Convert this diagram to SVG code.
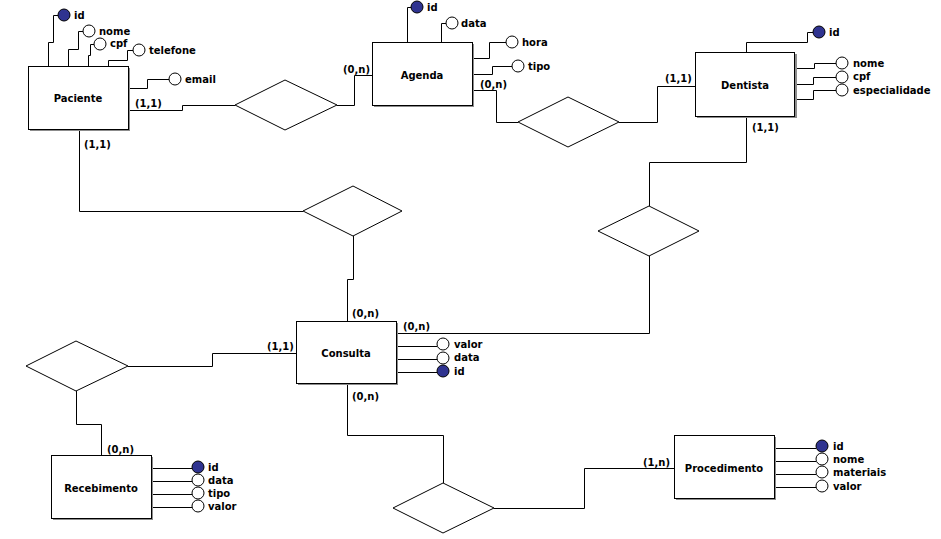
<svg xmlns="http://www.w3.org/2000/svg" width="941" height="539" viewBox="0 0 941 539">
<style>
text{font-family:"DejaVu Sans","Liberation Sans",sans-serif;font-weight:bold;font-size:10px;fill:#000}
.c{text-anchor:middle}
.box{fill:#fff;stroke:#000;stroke-width:1}
.sh{fill:#8c8c8c}
.ln{fill:none;stroke:#000;stroke-width:1}
.dia{fill:#fff;stroke:#000;stroke-width:1}
.ao{fill:#fff;stroke:#000;stroke-width:1}
.ak{fill:#2f3390;stroke:#000;stroke-width:1}
</style>
<rect width="941" height="539" fill="#fff"/>

<g id="connectors">
<path class="ln" d="M128.5,110.5 H182.5 V105.5 H235"/>
<path class="ln" d="M337,105.5 H354.5 V75.5 H372"/>
<path class="ln" d="M472,90.5 H496.5 V122.5 H518"/>
<path class="ln" d="M619,122.5 H657.5 V86.5 H695"/>
<path class="ln" d="M746.5,116 V162.5 H649.5 V206"/>
<path class="ln" d="M649.5,256 V333.5 H396"/>
<path class="ln" d="M79.5,129 V211.5 H303"/>
<path class="ln" d="M353.5,236 V279.5 H347.5 V321"/>
<path class="ln" d="M296,353.5 H212.5 V366.5 H128"/>
<path class="ln" d="M76.5,391 V424.5 H101.5 V455"/>
<path class="ln" d="M347.5,383 V435.5 H443.5 V483"/>
<path class="ln" d="M494,508.5 H584.5 V468.5 H674"/>
<text x="135" y="107">(1,1)</text>
<text x="343" y="73">(0,n)</text>
<text x="480" y="88">(0,n)</text>
<text x="665" y="82">(1,1)</text>
<text x="752" y="131">(1,1)</text>
<text x="84" y="148">(1,1)</text>
<text x="352" y="317">(0,n)</text>
<text x="403" y="330">(0,n)</text>
<text x="267" y="350">(1,1)</text>
<text x="352" y="400">(0,n)</text>
<text x="107" y="453">(0,n)</text>
<text x="643" y="466">(1,n)</text>
</g>

<g id="rel-paciente-agenda"><polygon class="dia" points="235,105 285,80 337,105 285,130"/></g>
<g id="rel-agenda-dentista"><polygon class="dia" points="518,122 568,97 619,122 568,147"/></g>
<g id="rel-dentista-consulta"><polygon class="dia" points="598,231 649,206 699,231 649,256"/></g>
<g id="rel-paciente-consulta"><polygon class="dia" points="303,211 353,186 402,211 353,236"/></g>
<g id="rel-consulta-recebimento"><polygon class="dia" points="26,366 76,341 128,366 76,391"/></g>
<g id="rel-consulta-procedimento"><polygon class="dia" points="393,508 443,483 494,508 443,533"/></g>

<g id="paciente">
<path class="ln" d="M48.5,66 V42.5 H53.5 V15.5 H58"/>
<path class="ln" d="M68.5,66 V49.5 H78.5 V31.5 H83"/>
<path class="ln" d="M88.5,66 V55.5 H90.5 V44.5 H94"/>
<path class="ln" d="M108.5,66 V60.5 H127.5 V50.5 H133"/>
<path class="ln" d="M128,88.5 H147.5 V79.5 H169"/>
<rect class="sh" x="30" y="68" width="100" height="63"/>
<rect class="box" x="28.5" y="66.5" width="100" height="63"/>
<text class="c" x="78" y="102">Paciente</text>
<circle class="ak" cx="64" cy="15" r="6"/><text x="74" y="19">id</text>
<circle class="ao" cx="89" cy="31" r="6"/><text x="99" y="35">nome</text>
<circle class="ao" cx="100" cy="44" r="6"/><text x="110" y="47">cpf</text>
<circle class="ao" cx="139" cy="50" r="6"/><text x="149" y="54">telefone</text>
<circle class="ao" cx="175" cy="79" r="6"/><text x="185" y="83">email</text>
</g>

<g id="agenda">
<path class="ln" d="M407.5,42 V7.5 H411"/>
<path class="ln" d="M441.5,42 V23.5 H446"/>
<path class="ln" d="M472,58.5 H489.5 V42.5 H506"/>
<path class="ln" d="M472,74.5 H492.5 V66.5 H512"/>
<rect class="sh" x="374" y="44" width="100" height="63"/>
<rect class="box" x="372.5" y="42.5" width="100" height="63"/>
<text class="c" x="422" y="79">Agenda</text>
<circle class="ak" cx="417" cy="7" r="6"/><text x="427" y="11">id</text>
<circle class="ao" cx="452" cy="23" r="6"/><text x="461" y="27">data</text>
<circle class="ao" cx="512" cy="42" r="6"/><text x="522" y="46">hora</text>
<circle class="ao" cx="518" cy="66" r="6"/><text x="528" y="70">tipo</text>
</g>

<g id="dentista">
<path class="ln" d="M746.5,52 V42.5 H807.5 V32.5 H813"/>
<path class="ln" d="M794,68.5 H814.5 V63.5 H836"/>
<path class="ln" d="M794,84.5 H813.5 V77.5 H836"/>
<path class="ln" d="M794,99.5 H813.5 V90.5 H836"/>
<rect class="sh" x="697" y="54" width="100" height="64"/>
<rect class="box" x="695.5" y="52.5" width="99" height="64"/>
<text class="c" x="745" y="89">Dentista</text>
<circle class="ak" cx="819" cy="32" r="6"/><text x="829" y="36">id</text>
<circle class="ao" cx="842" cy="63" r="6"/><text x="853" y="67">nome</text>
<circle class="ao" cx="842" cy="77" r="6"/><text x="853" y="80">cpf</text>
<circle class="ao" cx="842" cy="90" r="6"/><text x="853" y="94">especialidade</text>
</g>

<g id="consulta">
<path class="ln" d="M396,346.5 H437"/>
<path class="ln" d="M396,359.5 H437"/>
<path class="ln" d="M396,372.5 H437"/>
<rect class="sh" x="298" y="323" width="100" height="62"/>
<rect class="box" x="296.5" y="321.5" width="100" height="62"/>
<text class="c" x="346" y="357">Consulta</text>
<circle class="ao" cx="443" cy="344" r="6"/><text x="454" y="348">valor</text>
<circle class="ao" cx="443" cy="358" r="6"/><text x="454" y="361">data</text>
<circle class="ak" cx="443" cy="371" r="6"/><text x="454" y="375">id</text>
</g>

<g id="recebimento">
<path class="ln" d="M151,468.5 H192"/>
<path class="ln" d="M151,481.5 H192"/>
<path class="ln" d="M151,494.5 H192"/>
<path class="ln" d="M151,507.5 H192"/>
<rect class="sh" x="53" y="457" width="100" height="63"/>
<rect class="box" x="51.5" y="455.5" width="100" height="63"/>
<text class="c" x="101" y="492">Recebimento</text>
<circle class="ak" cx="198" cy="467" r="6"/><text x="208" y="471">id</text>
<circle class="ao" cx="198" cy="480" r="6"/><text x="208" y="484">data</text>
<circle class="ao" cx="198" cy="493" r="6"/><text x="208" y="497">tipo</text>
<circle class="ao" cx="198" cy="506" r="6"/><text x="208" y="510">valor</text>
</g>

<g id="procedimento">
<path class="ln" d="M774,448.5 H816"/>
<path class="ln" d="M774,461.5 H816"/>
<path class="ln" d="M774,474.5 H816"/>
<path class="ln" d="M774,487.5 H816"/>
<rect class="sh" x="676" y="437" width="100" height="63"/>
<rect class="box" x="674.5" y="435.5" width="100" height="63"/>
<text class="c" x="724" y="472">Procedimento</text>
<circle class="ak" cx="822" cy="446" r="6"/><text x="833" y="450">id</text>
<circle class="ao" cx="822" cy="459" r="6"/><text x="833" y="463">nome</text>
<circle class="ao" cx="822" cy="472" r="6"/><text x="833" y="476">materiais</text>
<circle class="ao" cx="822" cy="486" r="6"/><text x="833" y="490">valor</text>
</g>
</svg>
